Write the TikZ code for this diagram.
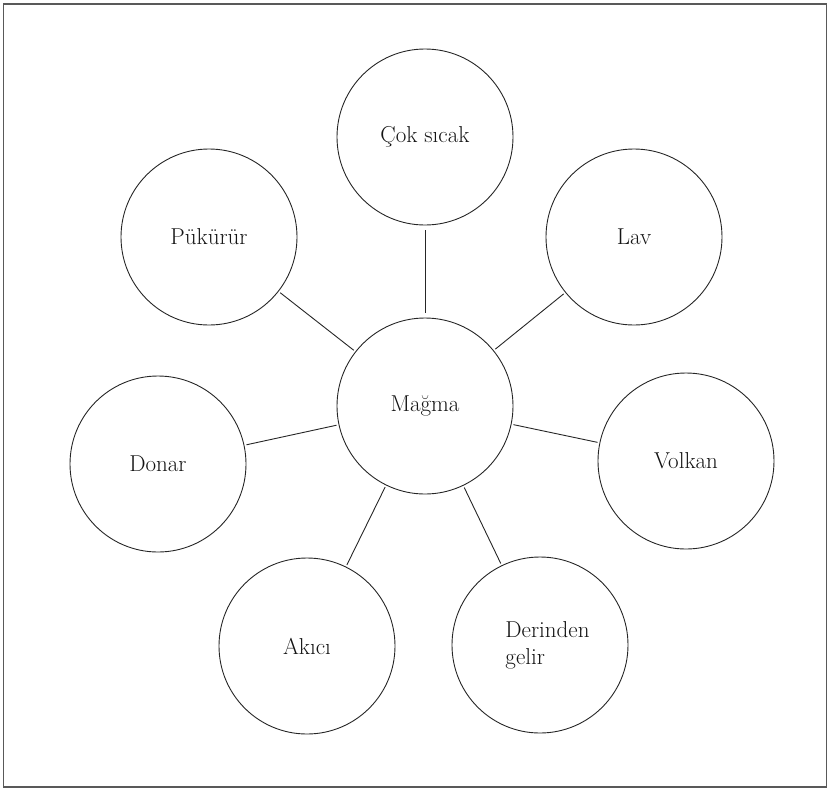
\documentclass[tikz,border=0pt]{standalone}
\usepackage{fontspec}
\begin{document}
\begin{tikzpicture}[x=1pt,y=-1pt,
  bubble/.style={circle,draw=black!85,line width=0.9pt,minimum size=176pt,inner sep=0pt,
    font=\fontsize{23}{27}\selectfont,text=black!92},
  link/.style={draw=black!85,line width=0.9pt,shorten <=2pt,shorten >=2pt}]
\useasboundingbox (0,0) rectangle (828,788);
\draw[black!65,line width=1.3pt] (3.5,4) rectangle (826.5,787);
\node[bubble] (mag) at (425,406) {Mağma};
\node[bubble] (cok) at (425,137) {Çok sıcak};
\node[bubble] (lav) at (634,237) {Lav};
\node[bubble] (puk) at (209,237) {Pükürür};
\node[bubble] (don) at (158,464) {Donar};
\node[bubble] (vol) at (686,461) {Volkan};
\node[bubble] (aki) at (307,646) {Akıcı};
\node[bubble,align=left] (der) at (540,645) {\hspace*{15pt}Derinden\\\hspace*{15pt}gelir};
\draw[link,shorten <=5pt,shorten >=5pt] (cok) -- (mag);
\draw[link] (puk) -- (mag);
\draw[link] (lav) -- (mag);
\draw[link] (don) -- (mag);
\draw[link] (vol) -- (mag);
\draw[link] (aki) -- (mag);
\draw[link] (der) -- (mag);
\end{tikzpicture}
\end{document}
